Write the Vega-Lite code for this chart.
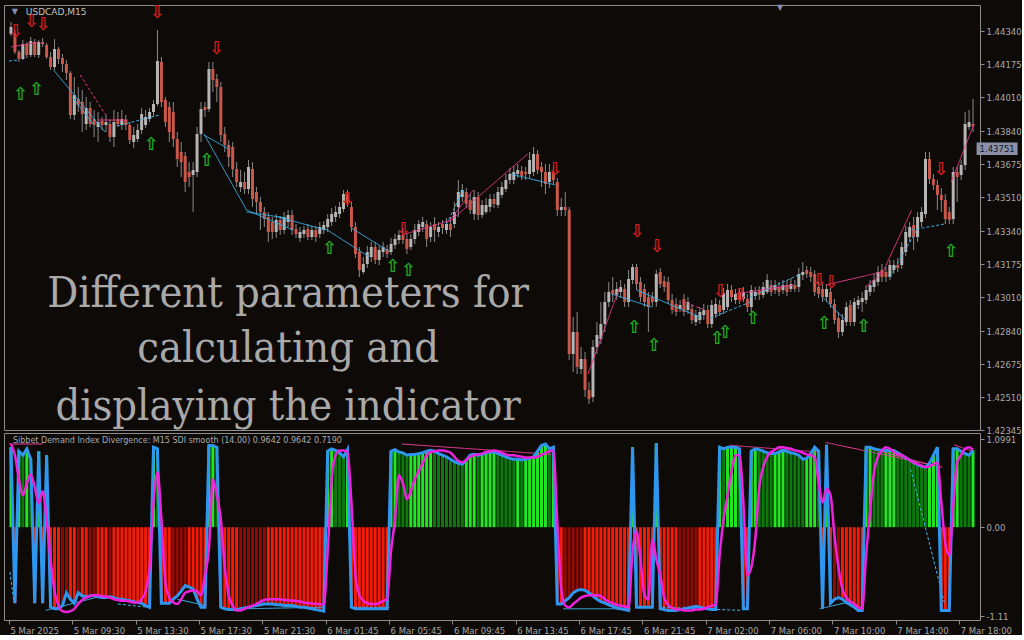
{
"$schema":"https://vega.github.io/schema/vega-lite/v6.json",
"background":"#0e0a08",
"padding":{"left":3,"top":3,"right":0,"bottom":0},
"bounds":"flush",
"config":{"view":{"stroke":"#8c8c8c","strokeWidth":1},"concat":{"spacing":3},
"axis":{"domain":false,"grid":false,"labelColor":"#a9a9a9","tickColor":"#8c8c8c","labelFont":"DejaVu Sans","labelFontSize":8.5,"tickSize":4,"labelPadding":2}},
"datasets":{
"bars":[
{"i":0,"o":144325,"h":144385,"l":144315,"c":144360,"v":1,"m":1.04},
{"i":1,"o":144325,"h":144345,"l":144225,"c":144235,"v":-0.95,"m":0.9},
{"i":2,"o":144235,"h":144245,"l":144185,"c":144200,"v":0.95,"m":0.6},
{"i":3,"o":144200,"h":144295,"l":144195,"c":144275,"v":0.9,"m":0.4},
{"i":4,"o":144275,"h":144285,"l":144205,"c":144220,"v":0.98,"m":0.55},
{"i":5,"o":144220,"h":144310,"l":144210,"c":144290,"v":0.85,"m":0.66},
{"i":6,"o":144285,"h":144300,"l":144210,"c":144220,"v":-0.95,"m":0.5},
{"i":7,"o":144220,"h":144295,"l":144205,"c":144285,"v":0.95,"m":0.3},
{"i":8,"o":144285,"h":144305,"l":144260,"c":144275,"v":-0.95,"m":0.45},
{"i":9,"o":144270,"h":144280,"l":144200,"c":144210,"v":0.9,"m":0.1},
{"i":10,"o":144210,"h":144235,"l":144145,"c":144160,"v":-1,"m":-0.4},
{"i":11,"o":144160,"h":144300,"l":144145,"c":144250,"v":-1.02,"m":-0.8},
{"i":12,"o":144250,"h":144260,"l":144175,"c":144200,"v":-1.02,"m":-0.98},
{"i":13,"o":144205,"h":144225,"l":144135,"c":144175,"v":-0.98,"m":-1.05},
{"i":14,"o":144175,"h":144195,"l":144095,"c":144130,"v":-0.82,"m":-1.06},
{"i":15,"o":144130,"h":144140,"l":143900,"c":143920,"v":-0.9,"m":-1.05},
{"i":16,"o":143920,"h":144110,"l":143895,"c":144020,"v":-0.95,"m":-1.02},
{"i":17,"o":144000,"h":144060,"l":143935,"c":143970,"v":-0.82,"m":-0.96},
{"i":18,"o":143985,"h":144045,"l":143835,"c":143925,"v":-0.86,"m":-0.91},
{"i":19,"o":143875,"h":144010,"l":143845,"c":143955,"v":-0.87,"m":-0.88},
{"i":20,"o":143955,"h":143985,"l":143860,"c":143875,"v":-0.86,"m":-0.86},
{"i":21,"o":143900,"h":143945,"l":143810,"c":143870,"v":-0.85,"m":-0.85},
{"i":22,"o":143860,"h":143935,"l":143785,"c":143885,"v":-0.87,"m":-0.85},
{"i":23,"o":143890,"h":143910,"l":143845,"c":143870,"v":-0.88,"m":-0.86},
{"i":24,"o":143870,"h":143925,"l":143835,"c":143885,"v":-0.88,"m":-0.87},
{"i":25,"o":143875,"h":143895,"l":143785,"c":143810,"v":-0.87,"m":-0.88},
{"i":26,"o":143810,"h":143945,"l":143760,"c":143885,"v":-0.88,"m":-0.9},
{"i":27,"o":143900,"h":143935,"l":143860,"c":143875,"v":-0.9,"m":-0.91},
{"i":28,"o":143870,"h":143945,"l":143845,"c":143900,"v":-0.9,"m":-0.92},
{"i":29,"o":143895,"h":143920,"l":143845,"c":143870,"v":-0.91,"m":-0.92},
{"i":30,"o":143870,"h":143885,"l":143775,"c":143795,"v":-0.92,"m":-0.93},
{"i":31,"o":143785,"h":143860,"l":143755,"c":143820,"v":-0.93,"m":-0.94},
{"i":32,"o":143800,"h":143875,"l":143785,"c":143845,"v":-0.94,"m":-0.94},
{"i":33,"o":143845,"h":143955,"l":143825,"c":143925,"v":-0.95,"m":-0.9},
{"i":34,"o":143870,"h":143945,"l":143855,"c":143910,"v":-0.98,"m":-0.8},
{"i":35,"o":143900,"h":143955,"l":143885,"c":143935,"v":-1,"m":-0.5},
{"i":36,"o":143935,"h":143995,"l":143910,"c":143975,"v":1,"m":0.3},
{"i":37,"o":143975,"h":144345,"l":143965,"c":144190,"v":0.98,"m":0.69},
{"i":38,"o":144185,"h":144210,"l":143960,"c":143985,"v":-0.95,"m":0.1},
{"i":39,"o":143995,"h":144010,"l":143860,"c":143885,"v":-0.95,"m":-0.69},
{"i":40,"o":143960,"h":143985,"l":143785,"c":143835,"v":-0.95,"m":-0.88},
{"i":41,"o":143935,"h":143985,"l":143760,"c":143800,"v":-0.9,"m":-0.94},
{"i":42,"o":143800,"h":143835,"l":143660,"c":143700,"v":-0.86,"m":-0.96},
{"i":43,"o":143735,"h":143785,"l":143610,"c":143685,"v":-0.8,"m":-0.9},
{"i":44,"o":143715,"h":143735,"l":143535,"c":143585,"v":-0.73,"m":-0.82},
{"i":45,"o":143635,"h":143685,"l":143560,"c":143610,"v":-0.75,"m":-0.8},
{"i":46,"o":143620,"h":143685,"l":143435,"c":143645,"v":-0.77,"m":-0.79},
{"i":47,"o":143635,"h":143860,"l":143610,"c":143825,"v":-0.9,"m":-0.8},
{"i":48,"o":143825,"h":143985,"l":143785,"c":143950,"v":-1,"m":-0.85},
{"i":49,"o":143960,"h":143985,"l":143910,"c":143945,"v":-1,"m":-0.6},
{"i":50,"o":143950,"h":144185,"l":143935,"c":144150,"v":1.02,"m":-0.27},
{"i":51,"o":144150,"h":144185,"l":144035,"c":144095,"v":1.02,"m":0.6},
{"i":52,"o":144100,"h":144125,"l":143985,"c":144060,"v":1,"m":0.4},
{"i":53,"o":144060,"h":144085,"l":143785,"c":143820,"v":-1,"m":0.1},
{"i":54,"o":143825,"h":143860,"l":143735,"c":143770,"v":-1.02,"m":-0.5},
{"i":55,"o":143770,"h":143795,"l":143660,"c":143710,"v":-1.03,"m":-0.85},
{"i":56,"o":143760,"h":143785,"l":143610,"c":143650,"v":-1.03,"m":-0.98},
{"i":57,"o":143650,"h":143685,"l":143560,"c":143585,"v":-1.03,"m":-1.04},
{"i":58,"o":143560,"h":143645,"l":143535,"c":143585,"v":-1.02,"m":-1.04},
{"i":59,"o":143585,"h":143635,"l":143525,"c":143550,"v":-1.01,"m":-1.02},
{"i":60,"o":143550,"h":143695,"l":143525,"c":143660,"v":-1,"m":-1},
{"i":61,"o":143650,"h":143685,"l":143460,"c":143500,"v":-0.99,"m":-0.98},
{"i":62,"o":143535,"h":143560,"l":143425,"c":143485,"v":-0.98,"m":-0.96},
{"i":63,"o":143485,"h":143510,"l":143345,"c":143435,"v":-0.97,"m":-0.93},
{"i":64,"o":143435,"h":143460,"l":143360,"c":143400,"v":-0.96,"m":-0.91},
{"i":65,"o":143410,"h":143435,"l":143285,"c":143335,"v":-0.96,"m":-0.9},
{"i":66,"o":143385,"h":143410,"l":143300,"c":143335,"v":-0.96,"m":-0.9},
{"i":67,"o":143335,"h":143425,"l":143305,"c":143395,"v":-0.97,"m":-0.9},
{"i":68,"o":143395,"h":143415,"l":143320,"c":143345,"v":-0.97,"m":-0.9},
{"i":69,"o":143345,"h":143435,"l":143325,"c":143410,"v":-0.98,"m":-0.91},
{"i":70,"o":143385,"h":143445,"l":143360,"c":143420,"v":-0.98,"m":-0.91},
{"i":71,"o":143420,"h":143445,"l":143320,"c":143345,"v":-0.98,"m":-0.92},
{"i":72,"o":143350,"h":143375,"l":143305,"c":143325,"v":-0.99,"m":-0.92},
{"i":73,"o":143305,"h":143360,"l":143285,"c":143335,"v":-1,"m":-0.93},
{"i":74,"o":143325,"h":143365,"l":143305,"c":143345,"v":-1,"m":-0.94},
{"i":75,"o":143350,"h":143375,"l":143295,"c":143310,"v":-1.01,"m":-0.95},
{"i":76,"o":143310,"h":143365,"l":143295,"c":143345,"v":-1.02,"m":-0.95},
{"i":77,"o":143345,"h":143365,"l":143285,"c":143310,"v":-1.03,"m":-0.96},
{"i":78,"o":143325,"h":143385,"l":143305,"c":143360,"v":-1.04,"m":-0.96},
{"i":79,"o":143345,"h":143390,"l":143325,"c":143370,"v":-1.05,"m":-0.97},
{"i":80,"o":143360,"h":143425,"l":143335,"c":143400,"v":0.95,"m":-0.3},
{"i":81,"o":143385,"h":143455,"l":143365,"c":143425,"v":0.98,"m":0.6},
{"i":82,"o":143410,"h":143465,"l":143385,"c":143435,"v":0.96,"m":0.9},
{"i":83,"o":143425,"h":143485,"l":143405,"c":143460,"v":0.93,"m":0.96},
{"i":84,"o":143450,"h":143545,"l":143435,"c":143525,"v":0.88,"m":0.96},
{"i":85,"o":143520,"h":143545,"l":143460,"c":143485,"v":0.97,"m":0.94},
{"i":86,"o":143460,"h":143485,"l":143335,"c":143360,"v":-1,"m":0.3},
{"i":87,"o":143360,"h":143385,"l":143205,"c":143225,"v":-1.02,"m":-0.6},
{"i":88,"o":143235,"h":143260,"l":143110,"c":143145,"v":-1.02,"m":-0.85},
{"i":89,"o":143135,"h":143210,"l":143125,"c":143175,"v":-1.02,"m":-0.92},
{"i":90,"o":143175,"h":143265,"l":143155,"c":143235,"v":-1.02,"m":-0.95},
{"i":91,"o":143210,"h":143285,"l":143185,"c":143260,"v":-1.02,"m":-0.96},
{"i":92,"o":143260,"h":143285,"l":143175,"c":143195,"v":-1.02,"m":-0.96},
{"i":93,"o":143195,"h":143265,"l":143170,"c":143245,"v":-1.02,"m":-0.95},
{"i":94,"o":143235,"h":143285,"l":143210,"c":143260,"v":-1.02,"m":-0.92},
{"i":95,"o":143250,"h":143270,"l":143205,"c":143225,"v":-1.02,"m":-0.9},
{"i":96,"o":143235,"h":143305,"l":143220,"c":143275,"v":0.95,"m":-0.3},
{"i":97,"o":143270,"h":143325,"l":143250,"c":143300,"v":0.97,"m":0.1},
{"i":98,"o":143295,"h":143345,"l":143275,"c":143320,"v":0.94,"m":0.65},
{"i":99,"o":143320,"h":143355,"l":143275,"c":143295,"v":0.93,"m":0.55},
{"i":100,"o":143300,"h":143325,"l":143225,"c":143250,"v":0.9,"m":0.35},
{"i":101,"o":143260,"h":143325,"l":143245,"c":143300,"v":0.91,"m":0.45},
{"i":102,"o":143300,"h":143375,"l":143275,"c":143345,"v":0.91,"m":0.6},
{"i":103,"o":143335,"h":143395,"l":143315,"c":143375,"v":0.92,"m":0.7},
{"i":104,"o":143360,"h":143410,"l":143335,"c":143385,"v":0.93,"m":0.8},
{"i":105,"o":143375,"h":143395,"l":143260,"c":143300,"v":0.95,"m":0.9},
{"i":106,"o":143310,"h":143385,"l":143285,"c":143360,"v":0.96,"m":0.94},
{"i":107,"o":143375,"h":143410,"l":143285,"c":143345,"v":0.95,"m":0.95},
{"i":108,"o":143335,"h":143385,"l":143310,"c":143360,"v":0.92,"m":0.96},
{"i":109,"o":143375,"h":143395,"l":143325,"c":143355,"v":0.9,"m":0.96},
{"i":110,"o":143345,"h":143405,"l":143325,"c":143375,"v":0.88,"m":0.95},
{"i":111,"o":143375,"h":143410,"l":143310,"c":143345,"v":0.85,"m":0.93},
{"i":112,"o":143375,"h":143485,"l":143355,"c":143435,"v":0.82,"m":0.88},
{"i":113,"o":143460,"h":143595,"l":143410,"c":143535,"v":0.8,"m":0.83},
{"i":114,"o":143510,"h":143575,"l":143485,"c":143545,"v":0.79,"m":0.81},
{"i":115,"o":143535,"h":143555,"l":143455,"c":143475,"v":0.84,"m":0.84},
{"i":116,"o":143495,"h":143525,"l":143425,"c":143445,"v":0.9,"m":0.88},
{"i":117,"o":143425,"h":143545,"l":143395,"c":143510,"v":0.91,"m":0.9},
{"i":118,"o":143510,"h":143535,"l":143395,"c":143420,"v":0.9,"m":0.91},
{"i":119,"o":143420,"h":143495,"l":143405,"c":143470,"v":0.91,"m":0.92},
{"i":120,"o":143435,"h":143505,"l":143425,"c":143470,"v":0.93,"m":0.94},
{"i":121,"o":143460,"h":143525,"l":143435,"c":143500,"v":0.94,"m":0.95},
{"i":122,"o":143500,"h":143525,"l":143455,"c":143475,"v":0.94,"m":0.96},
{"i":123,"o":143470,"h":143560,"l":143455,"c":143535,"v":0.92,"m":0.95},
{"i":124,"o":143520,"h":143585,"l":143505,"c":143560,"v":0.9,"m":0.93},
{"i":125,"o":143550,"h":143625,"l":143535,"c":143595,"v":0.88,"m":0.91},
{"i":126,"o":143595,"h":143655,"l":143575,"c":143625,"v":0.86,"m":0.9},
{"i":127,"o":143595,"h":143665,"l":143575,"c":143635,"v":0.85,"m":0.9},
{"i":128,"o":143625,"h":143675,"l":143605,"c":143645,"v":0.85,"m":0.89},
{"i":129,"o":143640,"h":143665,"l":143595,"c":143615,"v":0.84,"m":0.88},
{"i":130,"o":143635,"h":143660,"l":143595,"c":143625,"v":0.85,"m":0.87},
{"i":131,"o":143625,"h":143735,"l":143605,"c":143695,"v":0.86,"m":0.87},
{"i":132,"o":143635,"h":143760,"l":143615,"c":143725,"v":0.88,"m":0.87},
{"i":133,"o":143725,"h":143745,"l":143625,"c":143645,"v":0.95,"m":0.88},
{"i":134,"o":143660,"h":143685,"l":143560,"c":143635,"v":1.02,"m":0.9},
{"i":135,"o":143635,"h":143675,"l":143525,"c":143575,"v":1.04,"m":0.93},
{"i":136,"o":143585,"h":143675,"l":143555,"c":143635,"v":0.98,"m":0.95},
{"i":137,"o":143635,"h":143665,"l":143575,"c":143595,"v":1,"m":0.96},
{"i":138,"o":143585,"h":143605,"l":143415,"c":143445,"v":-0.96,"m":0.06},
{"i":139,"o":143445,"h":143505,"l":143415,"c":143460,"v":-0.96,"m":-0.77},
{"i":140,"o":143460,"h":143535,"l":143415,"c":143445,"v":-0.92,"m":-0.98},
{"i":141,"o":143445,"h":143460,"l":142695,"c":142725,"v":-0.88,"m":-1},
{"i":142,"o":142725,"h":142910,"l":142635,"c":142835,"v":-0.82,"m":-0.96},
{"i":143,"o":142835,"h":142935,"l":142625,"c":142660,"v":-0.79,"m":-0.92},
{"i":144,"o":142650,"h":142760,"l":142625,"c":142700,"v":-0.78,"m":-0.88},
{"i":145,"o":142700,"h":142735,"l":142510,"c":142545,"v":-0.79,"m":-0.86},
{"i":146,"o":142545,"h":142585,"l":142475,"c":142500,"v":-0.82,"m":-0.85},
{"i":147,"o":142510,"h":142795,"l":142485,"c":142760,"v":-0.86,"m":-0.85},
{"i":148,"o":142760,"h":142885,"l":142725,"c":142820,"v":-0.9,"m":-0.85},
{"i":149,"o":142800,"h":142985,"l":142775,"c":142875,"v":-0.93,"m":-0.86},
{"i":150,"o":142875,"h":143035,"l":142835,"c":142985,"v":-0.95,"m":-0.9},
{"i":151,"o":142985,"h":143085,"l":142960,"c":143035,"v":-0.97,"m":-0.93},
{"i":152,"o":143045,"h":143110,"l":142985,"c":143025,"v":-0.99,"m":-0.95},
{"i":153,"o":143020,"h":143085,"l":142995,"c":143050,"v":-1.01,"m":-0.97},
{"i":154,"o":143035,"h":143095,"l":143005,"c":143060,"v":-1.02,"m":-0.98},
{"i":155,"o":143050,"h":143075,"l":142960,"c":142985,"v":-1.03,"m":-0.99},
{"i":156,"o":142985,"h":143145,"l":142960,"c":143100,"v":-1.04,"m":-1},
{"i":157,"o":143095,"h":143175,"l":143075,"c":143160,"v":1,"m":-0.3},
{"i":158,"o":143160,"h":143175,"l":143045,"c":143075,"v":-1,"m":-0.05},
{"i":159,"o":143085,"h":143110,"l":142985,"c":143010,"v":-1,"m":-0.4},
{"i":160,"o":143050,"h":143075,"l":142960,"c":142985,"v":-1,"m":-0.85},
{"i":161,"o":143010,"h":143035,"l":142835,"c":142960,"v":-1,"m":-0.9},
{"i":162,"o":143010,"h":143035,"l":142960,"c":142985,"v":-1,"m":-0.15},
{"i":163,"o":142985,"h":143145,"l":142960,"c":143125,"v":1.05,"m":-0.4},
{"i":164,"o":143135,"h":143155,"l":143055,"c":143075,"v":-1.02,"m":-0.6},
{"i":165,"o":143090,"h":143115,"l":143035,"c":143060,"v":-1.03,"m":-0.88},
{"i":166,"o":143085,"h":143110,"l":142975,"c":142995,"v":-1.04,"m":-0.97},
{"i":167,"o":142995,"h":143025,"l":142925,"c":142945,"v":-1.04,"m":-1.01},
{"i":168,"o":142975,"h":143005,"l":142915,"c":142935,"v":-1.04,"m":-1.03},
{"i":169,"o":142950,"h":142995,"l":142935,"c":142970,"v":-1.03,"m":-1.03},
{"i":170,"o":143000,"h":143025,"l":142915,"c":142935,"v":-1.02,"m":-1.04},
{"i":171,"o":142945,"h":143010,"l":142925,"c":142985,"v":-1.01,"m":-1.04},
{"i":172,"o":142950,"h":142975,"l":142875,"c":142895,"v":-1,"m":-1.04},
{"i":173,"o":142885,"h":142945,"l":142865,"c":142920,"v":-0.99,"m":-1.03},
{"i":174,"o":142895,"h":142960,"l":142875,"c":142935,"v":-1,"m":-1.03},
{"i":175,"o":142920,"h":142975,"l":142895,"c":142945,"v":-1.01,"m":-1.02},
{"i":176,"o":142945,"h":142970,"l":142855,"c":142875,"v":-1.02,"m":-1},
{"i":177,"o":142875,"h":142995,"l":142855,"c":142970,"v":-1.03,"m":-0.98},
{"i":178,"o":142925,"h":143005,"l":142905,"c":142975,"v":-1.03,"m":-0.97},
{"i":179,"o":142970,"h":142995,"l":142915,"c":142935,"v":1,"m":-0.35},
{"i":180,"o":142945,"h":143055,"l":142925,"c":143030,"v":0.98,"m":0.1},
{"i":181,"o":142960,"h":143075,"l":142945,"c":143045,"v":1,"m":0.4},
{"i":182,"o":143045,"h":143070,"l":142985,"c":143010,"v":1,"m":0.7},
{"i":183,"o":142995,"h":143050,"l":142975,"c":143025,"v":1,"m":0.9},
{"i":184,"o":143035,"h":143055,"l":142975,"c":142995,"v":0.98,"m":0.9},
{"i":185,"o":143000,"h":143060,"l":142985,"c":143035,"v":-1.02,"m":0.3},
{"i":186,"o":143000,"h":143025,"l":142935,"c":142960,"v":-1.02,"m":-0.6},
{"i":187,"o":142960,"h":143070,"l":142935,"c":143045,"v":0.95,"m":-0.5},
{"i":188,"o":143015,"h":143060,"l":142995,"c":143035,"v":0.98,"m":-0.15},
{"i":189,"o":143040,"h":143065,"l":142995,"c":143020,"v":0.97,"m":0.5},
{"i":190,"o":143020,"h":143085,"l":143005,"c":143060,"v":0.95,"m":0.75},
{"i":191,"o":143035,"h":143125,"l":143025,"c":143095,"v":0.93,"m":0.88},
{"i":192,"o":143070,"h":143095,"l":143015,"c":143035,"v":0.92,"m":0.94},
{"i":193,"o":143045,"h":143095,"l":143025,"c":143070,"v":0.92,"m":0.97},
{"i":194,"o":143060,"h":143085,"l":143015,"c":143035,"v":0.94,"m":1},
{"i":195,"o":143045,"h":143095,"l":143025,"c":143070,"v":0.96,"m":1},
{"i":196,"o":143070,"h":143095,"l":143015,"c":143035,"v":0.95,"m":0.99},
{"i":197,"o":143050,"h":143105,"l":143035,"c":143075,"v":0.93,"m":0.98},
{"i":198,"o":143070,"h":143095,"l":143035,"c":143050,"v":0.92,"m":0.96},
{"i":199,"o":143060,"h":143155,"l":143035,"c":143125,"v":0.9,"m":0.95},
{"i":200,"o":143120,"h":143185,"l":143095,"c":143135,"v":0.85,"m":0.93},
{"i":201,"o":143145,"h":143165,"l":143105,"c":143125,"v":0.86,"m":0.91},
{"i":202,"o":143135,"h":143160,"l":143085,"c":143110,"v":0.92,"m":0.9},
{"i":203,"o":143125,"h":143145,"l":143015,"c":143035,"v":1,"m":0.88},
{"i":204,"o":143060,"h":143085,"l":143005,"c":143025,"v":0.95,"m":0.56},
{"i":205,"o":143050,"h":143075,"l":142985,"c":143010,"v":-1.02,"m":0.31},
{"i":206,"o":143010,"h":143075,"l":142985,"c":143050,"v":1.03,"m":0.48},
{"i":207,"o":143035,"h":143055,"l":142955,"c":142975,"v":-0.95,"m":0.4},
{"i":208,"o":142975,"h":143000,"l":142875,"c":142895,"v":-0.9,"m":-0.1},
{"i":209,"o":142905,"h":142935,"l":142805,"c":142835,"v":-0.88,"m":-0.5},
{"i":210,"o":142835,"h":142925,"l":142815,"c":142895,"v":-0.9,"m":-0.77},
{"i":211,"o":142885,"h":142985,"l":142865,"c":142960,"v":-0.94,"m":-0.88},
{"i":212,"o":142970,"h":142995,"l":142865,"c":142885,"v":-0.97,"m":-0.93},
{"i":213,"o":142885,"h":143005,"l":142865,"c":142985,"v":-1,"m":-0.96},
{"i":214,"o":142970,"h":143015,"l":142950,"c":142995,"v":-1.04,"m":-1},
{"i":215,"o":142985,"h":143035,"l":142935,"c":143005,"v":-1.04,"m":-1.02},
{"i":216,"o":142995,"h":143065,"l":142975,"c":143045,"v":1,"m":-0.35},
{"i":217,"o":143035,"h":143095,"l":143015,"c":143070,"v":1,"m":0.2},
{"i":218,"o":143060,"h":143125,"l":143035,"c":143095,"v":0.98,"m":0.69},
{"i":219,"o":143085,"h":143165,"l":143065,"c":143135,"v":0.97,"m":0.88},
{"i":220,"o":143145,"h":143175,"l":143085,"c":143110,"v":0.96,"m":0.96},
{"i":221,"o":143135,"h":143160,"l":143085,"c":143110,"v":0.96,"m":1},
{"i":222,"o":143110,"h":143195,"l":143095,"c":143170,"v":0.96,"m":0.98},
{"i":223,"o":143145,"h":143195,"l":143125,"c":143170,"v":0.96,"m":0.94},
{"i":224,"o":143170,"h":143205,"l":143135,"c":143155,"v":0.93,"m":0.91},
{"i":225,"o":143170,"h":143285,"l":143150,"c":143260,"v":0.9,"m":0.9},
{"i":226,"o":143235,"h":143365,"l":143215,"c":143335,"v":0.87,"m":0.87},
{"i":227,"o":143310,"h":143385,"l":143285,"c":143360,"v":0.84,"m":0.84},
{"i":228,"o":143370,"h":143410,"l":143245,"c":143310,"v":0.81,"m":0.81},
{"i":229,"o":143310,"h":143435,"l":143285,"c":143410,"v":0.78,"m":0.79},
{"i":230,"o":143385,"h":143460,"l":143360,"c":143435,"v":0.76,"m":0.77},
{"i":231,"o":143425,"h":143735,"l":143405,"c":143700,"v":0.75,"m":0.75},
{"i":232,"o":143700,"h":143735,"l":143575,"c":143600,"v":0.8,"m":0.76},
{"i":233,"o":143600,"h":143625,"l":143545,"c":143570,"v":0.9,"m":0.79},
{"i":234,"o":143570,"h":143595,"l":143445,"c":143520,"v":1,"m":0.81},
{"i":235,"o":143520,"h":143555,"l":143435,"c":143495,"v":-1.04,"m":0.3},
{"i":236,"o":143495,"h":143525,"l":143375,"c":143400,"v":-1.04,"m":-0.2},
{"i":237,"o":143435,"h":143460,"l":143375,"c":143395,"v":-1.04,"m":-0.35},
{"i":238,"o":143400,"h":143660,"l":143375,"c":143635,"v":0.98,"m":0.27},
{"i":239,"o":143635,"h":143660,"l":143485,"c":143610,"v":0.98,"m":0.81},
{"i":240,"o":143620,"h":143695,"l":143595,"c":143670,"v":0.95,"m":0.9},
{"i":241,"o":143670,"h":143935,"l":143645,"c":143875,"v":0.92,"m":0.98},
{"i":242,"o":143860,"h":143945,"l":143845,"c":143885,"v":0.9,"m":1},
{"i":243,"o":143875,"h":144000,"l":143835,"c":143865,"v":0.96,"m":0.97}
],
"sig":[
{"i":1.25,"p":144335,"s":"sell"},{"i":5.25,"p":144385,"s":"sell"},{"i":8.25,"p":144370,"s":"sell"},{"i":37,"p":144432,"s":"sell"},{"i":52,"p":144250,"s":"sell"},{"i":85,"p":143495,"s":"sell"},{"i":99.25,"p":143345,"s":"sell"},{"i":137.5,"p":143645,"s":"sell"},{"i":158.25,"p":143335,"s":"sell"},{"i":163.25,"p":143260,"s":"sell"},{"i":179.25,"p":143035,"s":"sell"},{"i":184.25,"p":143015,"s":"sell"},{"i":204.25,"p":143090,"s":"sell"},{"i":207.25,"p":143080,"s":"sell"},{"i":235,"p":143645,"s":"sell"},
{"i":2.5,"p":144020,"s":"buy"},{"i":6.5,"p":144045,"s":"buy"},{"i":35.5,"p":143770,"s":"buy"},{"i":49.5,"p":143690,"s":"buy"},{"i":80.5,"p":143250,"s":"buy"},{"i":96.5,"p":143160,"s":"buy"},{"i":100.5,"p":143140,"s":"buy"},{"i":157.5,"p":142855,"s":"buy"},{"i":162.5,"p":142765,"s":"buy"},{"i":178.5,"p":142800,"s":"buy"},{"i":180.5,"p":142830,"s":"buy"},{"i":187.5,"p":142900,"s":"buy"},{"i":205.5,"p":142875,"s":"buy"},{"i":215.5,"p":142860,"s":"buy"},{"i":237.5,"p":143235,"s":"buy"}
],
"useg":[
{"i":0,"i2":7,"p":144260,"p2":144285,"k":"bear","d":"regular"},
{"i":-0.5,"i2":2,"p":144190,"p2":144195,"k":"bull","d":"hidden"},
{"i":10.75,"i2":23.75,"p":144145,"p2":143835,"k":"bull","d":"regular"},
{"i":15.5,"i2":20.75,"p":144010,"p2":143875,"k":"bull","d":"regular"},
{"i":17.5,"i2":23.75,"p":144120,"p2":143925,"k":"bear","d":"hidden"},
{"i":22,"i2":29.5,"p":143895,"p2":143895,"k":"bear","d":"regular"},
{"i":26.75,"i2":37.5,"p":143865,"p2":143920,"k":"bull","d":"hidden"},
{"i":48.75,"i2":55,"p":143820,"p2":143750,"k":"bull","d":"regular"},
{"i":48.75,"i2":59.5,"p":143825,"p2":143445,"k":"bull","d":"regular"},
{"i":59.5,"i2":71.25,"p":143445,"p2":143345,"k":"bull","d":"regular"},
{"i":59.5,"i2":69.5,"p":143435,"p2":143405,"k":"bull","d":"regular"},
{"i":67.5,"i2":79.5,"p":143410,"p2":143345,"k":"bull","d":"regular"},
{"i":79.5,"i2":90.5,"p":143350,"p2":143210,"k":"bull","d":"regular"},
{"i":86,"i2":95.75,"p":143355,"p2":143235,"k":"bull","d":"regular"},
{"i":98.75,"i2":111.25,"p":143320,"p2":143395,"k":"bear","d":"regular"},
{"i":110.5,"i2":116.75,"p":143385,"p2":143545,"k":"bear","d":"regular"},
{"i":111.25,"i2":130.5,"p":143395,"p2":143725,"k":"bear","d":"regular"},
{"i":110,"i2":114.25,"p":143375,"p2":143545,"k":"bull","d":"hidden"},
{"i":126.25,"i2":137.5,"p":143625,"p2":143570,"k":"bull","d":"regular"},
{"i":145.75,"i2":153.75,"p":142625,"p2":143060,"k":"bear","d":"regular"},
{"i":151.75,"i2":161.75,"p":143025,"p2":142960,"k":"bull","d":"regular"},
{"i":158,"i2":174.5,"p":143045,"p2":142905,"k":"bull","d":"regular"},
{"i":176.75,"i2":186.75,"p":142905,"p2":142985,"k":"bull","d":"hidden"},
{"i":169.5,"i2":175.5,"p":142985,"p2":142945,"k":"bear","d":"hidden"},
{"i":183,"i2":197.5,"p":143025,"p2":143070,"k":"bear","d":"regular"},
{"i":186.75,"i2":199.5,"p":143010,"p2":143125,"k":"bull","d":"hidden"},
{"i":205.75,"i2":220,"p":143070,"p2":143135,"k":"bear","d":"regular"},
{"i":205,"i2":210.75,"p":143010,"p2":142895,"k":"bull","d":"regular"},
{"i":215.75,"i2":220,"p":143060,"p2":143125,"k":"bear","d":"regular"},
{"i":220,"i2":227.5,"p":143125,"p2":143445,"k":"bear","d":"regular"},
{"i":222,"i2":228.75,"p":143110,"p2":143345,"k":"bull","d":"hidden"},
{"i":227.5,"i2":235.75,"p":143345,"p2":143375,"k":"bull","d":"hidden"},
{"i":237.5,"i2":243.25,"p":143585,"p2":143875,"k":"bear","d":"regular"}
],
"lseg":[
{"i":-0.5,"i2":8,"v":1.04,"v2":1.04,"k":"bear","d":"regular"},
{"i":98.75,"i2":136.5,"v":1.04,"v2":0.91,"k":"bear","d":"regular"},
{"i":181.5,"i2":203.75,"v":1.025,"v2":0.94,"k":"bear","d":"regular"},
{"i":205.75,"i2":235.25,"v":1.06,"v2":0.75,"k":"bear","d":"regular"},
{"i":215.75,"i2":232.25,"v":1.0,"v2":0.78,"k":"bear","d":"regular"},
{"i":238.25,"i2":243.25,"v":1.03,"v2":0.94,"k":"bear","d":"regular"},
{"i":227.25,"i2":235.75,"v":0.725,"v2":-0.94,"k":"bull","d":"hidden"},
{"i":-0.25,"i2":0.75,"v":-0.56,"v2":-0.94,"k":"bull","d":"hidden"},
{"i":8.75,"i2":23.75,"v":-1.04,"v2":-0.85,"k":"bull","d":"regular"},
{"i":27,"i2":34.5,"v":-0.96,"v2":-1.0,"k":"bull","d":"hidden"},
{"i":42,"i2":48.75,"v":-0.9,"v2":-0.975,"k":"bull","d":"regular"},
{"i":53.75,"i2":78.75,"v":-1.025,"v2":-1.0,"k":"bull","d":"regular"},
{"i":85.5,"i2":95.75,"v":-1.0,"v2":-1.0,"k":"bull","d":"hidden"},
{"i":139.5,"i2":156.5,"v":-1.02,"v2":-1.02,"k":"bull","d":"regular"},
{"i":164.5,"i2":184.5,"v":-1.0,"v2":-1.04,"k":"bull","d":"hidden"},
{"i":204.25,"i2":211.25,"v":-1.02,"v2":-0.94,"k":"bull","d":"regular"}
]
},
"vconcat":[
{"width":976,"height":425,
"layer":[
{"data":{"name":"bars"},"mark":{"type":"rule","color":"#8a8a8a","strokeWidth":1},
"encoding":{"x":{"field":"i","type":"quantitative","scale":{"domain":[-0.5,243.5],"nice":false,"zero":false},"axis":null},
"y":{"field":"l","type":"quantitative","scale":{"domain":[142345,144470],"nice":false,"zero":false},"axis":{"orient":"right","title":null,"values":[142345,142510,142675,142840,143010,143175,143340,143510,143675,143840,144010,144175,144340],"labelExpr":"format(datum.value/100000, '.5f')"}},
"y2":{"field":"h"}}},
{"data":{"name":"bars"},"mark":{"type":"bar","width":3},
"encoding":{"x":{"field":"i","type":"quantitative","scale":{"domain":[-0.5,243.5],"nice":false,"zero":false},"axis":null},
"y":{"field":"o","type":"quantitative","scale":{"domain":[142345,144470],"nice":false,"zero":false},"axis":{"orient":"right","title":null,"values":[142345,142510,142675,142840,143010,143175,143340,143510,143675,143840,144010,144175,144340],"labelExpr":"format(datum.value/100000, '.5f')"}},
"y2":{"field":"c"},
"color":{"condition":{"test":"datum.c < datum.o","value":"#c9584a"},"value":"#b5b5b5"}}},
{"mark":{"type":"rule","color":"#4e4e6e","strokeWidth":1},"encoding":{"y":{"datum":143751,"type":"quantitative","scale":{"domain":[142345,144470],"nice":false,"zero":false},"axis":{"orient":"right","title":null,"values":[142345,142510,142675,142840,143010,143175,143340,143510,143675,143840,144010,144175,144340],"labelExpr":"format(datum.value/100000, '.5f')"}}}},
{"data":{"name":"useg"},"mark":{"type":"rule","strokeWidth":1},
"encoding":{"x":{"field":"i","type":"quantitative","scale":{"domain":[-0.5,243.5],"nice":false,"zero":false},"axis":null},"x2":{"field":"i2"},
"y":{"field":"p","type":"quantitative","scale":{"domain":[142345,144470],"nice":false,"zero":false},"axis":{"orient":"right","title":null,"values":[142345,142510,142675,142840,143010,143175,143340,143510,143675,143840,144010,144175,144340],"labelExpr":"format(datum.value/100000, '.5f')"}},"y2":{"field":"p2"},
"color":{"field":"k","type":"nominal","scale":{"domain":["bear","bull"],"range":["#e8388a","#38b2ea"]},"legend":null},
"strokeDash":{"field":"d","type":"nominal","scale":{"domain":["regular","hidden"],"range":[[1,0],[3,2]]},"legend":null}}},
{"data":{"name":"sig"},"transform":[{"filter":"datum.s == 'sell'"}],"mark":{"type":"text","text":"⇩","font":"DejaVu Sans","fontSize":18,"fontWeight":"bold","color":"#d01c1c","baseline":"middle","align":"center"},
"encoding":{"x":{"field":"i","type":"quantitative","scale":{"domain":[-0.5,243.5],"nice":false,"zero":false},"axis":null},"y":{"field":"p","type":"quantitative","scale":{"domain":[142345,144470],"nice":false,"zero":false},"axis":{"orient":"right","title":null,"values":[142345,142510,142675,142840,143010,143175,143340,143510,143675,143840,144010,144175,144340],"labelExpr":"format(datum.value/100000, '.5f')"}}}},
{"data":{"name":"sig"},"transform":[{"filter":"datum.s == 'buy'"}],"mark":{"type":"text","text":"⇧","font":"DejaVu Sans","fontSize":18,"fontWeight":"bold","color":"#1faa1f","baseline":"middle","align":"center"},
"encoding":{"x":{"field":"i","type":"quantitative","scale":{"domain":[-0.5,243.5],"nice":false,"zero":false},"axis":null},"y":{"field":"p","type":"quantitative","scale":{"domain":[142345,144470],"nice":false,"zero":false},"axis":{"orient":"right","title":null,"values":[142345,142510,142675,142840,143010,143175,143340,143510,143675,143840,144010,144175,144340],"labelExpr":"format(datum.value/100000, '.5f')"}}}},
{"data":{"values":[{"i":70,"p":142960,"t":"Different parameters for"},{"i":70,"p":142685,"t":"calculating and"},{"i":70,"p":142395,"t":"displaying the indicator"}]},
"mark":{"type":"text","font":"DejaVu Serif Condensed, DejaVu Serif","fontSize":43,"color":"#a9a9a9","align":"center","baseline":"alphabetic"},
"encoding":{"x":{"field":"i","type":"quantitative","scale":{"domain":[-0.5,243.5],"nice":false,"zero":false},"axis":null},"y":{"field":"p","type":"quantitative","scale":{"domain":[142345,144470],"nice":false,"zero":false},"axis":{"orient":"right","title":null,"values":[142345,142510,142675,142840,143010,143175,143340,143510,143675,143840,144010,144175,144340],"labelExpr":"format(datum.value/100000, '.5f')"}},"text":{"field":"t"}}},
{"data":{"values":[{"i":3.75,"p":144435,"t":"USDCAD,M15"}]},
"mark":{"type":"text","font":"DejaVu Sans","fontSize":9,"color":"#c0c0c0","align":"left","baseline":"middle"},
"encoding":{"x":{"field":"i","type":"quantitative","scale":{"domain":[-0.5,243.5],"nice":false,"zero":false},"axis":null},"y":{"field":"p","type":"quantitative","scale":{"domain":[142345,144470],"nice":false,"zero":false},"axis":{"orient":"right","title":null,"values":[142345,142510,142675,142840,143010,143175,143340,143510,143675,143840,144010,144175,144340],"labelExpr":"format(datum.value/100000, '.5f')"}},"text":{"field":"t"}}},
{"data":{"values":[{"i":1,"p":144435,"t":"▼"},{"i":194.25,"p":144455,"t":"▼"}]},
"mark":{"type":"text","font":"DejaVu Sans","fontSize":8,"color":"#8a8fb0","align":"center","baseline":"middle"},
"encoding":{"x":{"field":"i","type":"quantitative","scale":{"domain":[-0.5,243.5],"nice":false,"zero":false},"axis":null},"y":{"field":"p","type":"quantitative","scale":{"domain":[142345,144470],"nice":false,"zero":false},"axis":{"orient":"right","title":null,"values":[142345,142510,142675,142840,143010,143175,143340,143510,143675,143840,144010,144175,144340],"labelExpr":"format(datum.value/100000, '.5f')"}},"text":{"field":"t"}}},
{"data":{"values":[{"i":243.9,"i2":254.25,"p":143720,"p2":143782}]},
"mark":{"type":"rect","color":"#8a90a8"},
"encoding":{"x":{"field":"i","type":"quantitative","scale":{"domain":[-0.5,243.5],"nice":false,"zero":false},"axis":null},"x2":{"field":"i2"},"y":{"field":"p","type":"quantitative","scale":{"domain":[142345,144470],"nice":false,"zero":false},"axis":{"orient":"right","title":null,"values":[142345,142510,142675,142840,143010,143175,143340,143510,143675,143840,144010,144175,144340],"labelExpr":"format(datum.value/100000, '.5f')"}},"y2":{"field":"p2"}}},
{"data":{"values":[{"i":249.1,"p":143751,"t":"1.43751"}]},
"mark":{"type":"text","font":"DejaVu Sans","fontSize":8.5,"color":"#15161f","align":"center","baseline":"middle"},
"encoding":{"x":{"field":"i","type":"quantitative","scale":{"domain":[-0.5,243.5],"nice":false,"zero":false},"axis":null},"y":{"field":"p","type":"quantitative","scale":{"domain":[142345,144470],"nice":false,"zero":false},"axis":{"orient":"right","title":null,"values":[142345,142510,142675,142840,143010,143175,143340,143510,143675,143840,144010,144175,144340],"labelExpr":"format(datum.value/100000, '.5f')"}},"text":{"field":"t"}}}
]},
{"width":976,"height":187,
"resolve":{"scale":{"color":"independent","strokeDash":"independent"}},
"layer":[
{"data":{"name":"bars"},
"transform":[{"window":[{"op":"lag","field":"v","as":"pv"}],"sort":[{"field":"i","order":"ascending"}]},
{"calculate":"datum.v >= 0 ? ((datum.pv != null && datum.v < datum.pv) ? 'gd' : 'gu') : ((datum.pv != null && datum.v > datum.pv) ? 'rd' : 'ru')","as":"hc"}],
"mark":{"type":"bar","width":3},
"encoding":{"x":{"field":"i","type":"quantitative","scale":{"domain":[-0.5,243.5],"nice":false,"zero":false},
"axis":{"orient":"bottom","title":null,"values":[-0.5,15.5,31.5,47.5,63.5,79.5,95.5,111.5,127.5,143.5,159.5,175.5,191.5,207.5,223.5,239.5],"labelExpr":"['5 Mar 2025','5 Mar 09:30','5 Mar 13:30','5 Mar 17:30','5 Mar 21:30','6 Mar 01:45','6 Mar 05:45','6 Mar 09:45','6 Mar 13:45','6 Mar 17:45','6 Mar 21:45','7 Mar 02:00','7 Mar 06:00','7 Mar 10:00','7 Mar 14:00','7 Mar 18:00'][round((datum.value+0.5)/16)]","labelAlign":"left","labelOffset":1,"labelOverlap":false,"labelFlush":false,"labelBound":false}},
"y":{"field":"v","type":"quantitative","scale":{"domain":[-1.16,1.1775],"nice":false,"zero":false},
"axis":{"orient":"right","title":null,"values":[1.0991,0,-1.11],"labelExpr":"datum.value == 0 ? '0.00' : (datum.value > 0 ? '1.0991' : '-1.11')"}},
"y2":{"datum":0},
"color":{"field":"hc","type":"nominal","scale":{"domain":["gu","gd","ru","rd"],"range":["#22e622","#0a7a0a","#f51c05","#8e0a02"]},"legend":null}}},
{"mark":{"type":"rule","color":"#ffff00","strokeWidth":1.5},"encoding":{"y":{"datum":0,"type":"quantitative","scale":{"domain":[-1.16,1.1775],"nice":false,"zero":false},"axis":{"orient":"right","title":null,"values":[1.0991,0,-1.11],"labelExpr":"datum.value == 0 ? '0.00' : (datum.value > 0 ? '1.0991' : '-1.11')"}}}},
{"data":{"name":"lseg"},"mark":{"type":"rule","strokeWidth":1},
"encoding":{"x":{"field":"i","type":"quantitative","scale":{"domain":[-0.5,243.5],"nice":false,"zero":false},"axis":{"orient":"bottom","title":null,"values":[-0.5,15.5,31.5,47.5,63.5,79.5,95.5,111.5,127.5,143.5,159.5,175.5,191.5,207.5,223.5,239.5],"labelExpr":"['5 Mar 2025','5 Mar 09:30','5 Mar 13:30','5 Mar 17:30','5 Mar 21:30','6 Mar 01:45','6 Mar 05:45','6 Mar 09:45','6 Mar 13:45','6 Mar 17:45','6 Mar 21:45','7 Mar 02:00','7 Mar 06:00','7 Mar 10:00','7 Mar 14:00','7 Mar 18:00'][round((datum.value+0.5)/16)]","labelAlign":"left","labelOffset":1,"labelOverlap":false,"labelFlush":false,"labelBound":false}},"x2":{"field":"i2"},
"y":{"field":"v","type":"quantitative","scale":{"domain":[-1.16,1.1775],"nice":false,"zero":false},"axis":{"orient":"right","title":null,"values":[1.0991,0,-1.11],"labelExpr":"datum.value == 0 ? '0.00' : (datum.value > 0 ? '1.0991' : '-1.11')"}},"y2":{"field":"v2"},
"color":{"field":"k","type":"nominal","scale":{"domain":["bear","bull"],"range":["#f0409a","#40b8f0"]},"legend":null},
"strokeDash":{"field":"d","type":"nominal","scale":{"domain":["regular","hidden"],"range":[[1,0],[3,2]]},"legend":null}}},
{"data":{"name":"bars"},"mark":{"type":"line","color":"#2e96ee","strokeWidth":3},
"encoding":{"x":{"field":"i","type":"quantitative","scale":{"domain":[-0.5,243.5],"nice":false,"zero":false},"axis":{"orient":"bottom","title":null,"values":[-0.5,15.5,31.5,47.5,63.5,79.5,95.5,111.5,127.5,143.5,159.5,175.5,191.5,207.5,223.5,239.5],"labelExpr":"['5 Mar 2025','5 Mar 09:30','5 Mar 13:30','5 Mar 17:30','5 Mar 21:30','6 Mar 01:45','6 Mar 05:45','6 Mar 09:45','6 Mar 13:45','6 Mar 17:45','6 Mar 21:45','7 Mar 02:00','7 Mar 06:00','7 Mar 10:00','7 Mar 14:00','7 Mar 18:00'][round((datum.value+0.5)/16)]","labelAlign":"left","labelOffset":1,"labelOverlap":false,"labelFlush":false,"labelBound":false}},"y":{"field":"v","type":"quantitative","scale":{"domain":[-1.16,1.1775],"nice":false,"zero":false},"axis":{"orient":"right","title":null,"values":[1.0991,0,-1.11],"labelExpr":"datum.value == 0 ? '0.00' : (datum.value > 0 ? '1.0991' : '-1.11')"}}}},
{"data":{"name":"bars"},"mark":{"type":"line","color":"#ee22dc","strokeWidth":2.5,"interpolate":"monotone"},
"encoding":{"x":{"field":"i","type":"quantitative","scale":{"domain":[-0.5,243.5],"nice":false,"zero":false},"axis":{"orient":"bottom","title":null,"values":[-0.5,15.5,31.5,47.5,63.5,79.5,95.5,111.5,127.5,143.5,159.5,175.5,191.5,207.5,223.5,239.5],"labelExpr":"['5 Mar 2025','5 Mar 09:30','5 Mar 13:30','5 Mar 17:30','5 Mar 21:30','6 Mar 01:45','6 Mar 05:45','6 Mar 09:45','6 Mar 13:45','6 Mar 17:45','6 Mar 21:45','7 Mar 02:00','7 Mar 06:00','7 Mar 10:00','7 Mar 14:00','7 Mar 18:00'][round((datum.value+0.5)/16)]","labelAlign":"left","labelOffset":1,"labelOverlap":false,"labelFlush":false,"labelBound":false}},"y":{"field":"m","type":"quantitative","scale":{"domain":[-1.16,1.1775],"nice":false,"zero":false},"axis":{"orient":"right","title":null,"values":[1.0991,0,-1.11],"labelExpr":"datum.value == 0 ? '0.00' : (datum.value > 0 ? '1.0991' : '-1.11')"}}}},
{"data":{"values":[{"i":0.5,"v":1.08,"t":"Sibbet Demand Index Divergence:  M15   SDI smooth (14.00) 0.9642 0.9642 0.7190"}]},
"mark":{"type":"text","font":"DejaVu Sans","fontSize":8,"color":"#a9a9a9","align":"left","baseline":"middle"},
"encoding":{"x":{"field":"i","type":"quantitative","scale":{"domain":[-0.5,243.5],"nice":false,"zero":false},"axis":{"orient":"bottom","title":null,"values":[-0.5,15.5,31.5,47.5,63.5,79.5,95.5,111.5,127.5,143.5,159.5,175.5,191.5,207.5,223.5,239.5],"labelExpr":"['5 Mar 2025','5 Mar 09:30','5 Mar 13:30','5 Mar 17:30','5 Mar 21:30','6 Mar 01:45','6 Mar 05:45','6 Mar 09:45','6 Mar 13:45','6 Mar 17:45','6 Mar 21:45','7 Mar 02:00','7 Mar 06:00','7 Mar 10:00','7 Mar 14:00','7 Mar 18:00'][round((datum.value+0.5)/16)]","labelAlign":"left","labelOffset":1,"labelOverlap":false,"labelFlush":false,"labelBound":false}},"y":{"field":"v","type":"quantitative","scale":{"domain":[-1.16,1.1775],"nice":false,"zero":false},"axis":{"orient":"right","title":null,"values":[1.0991,0,-1.11],"labelExpr":"datum.value == 0 ? '0.00' : (datum.value > 0 ? '1.0991' : '-1.11')"}},"text":{"field":"t"}}}
]}
]
}
